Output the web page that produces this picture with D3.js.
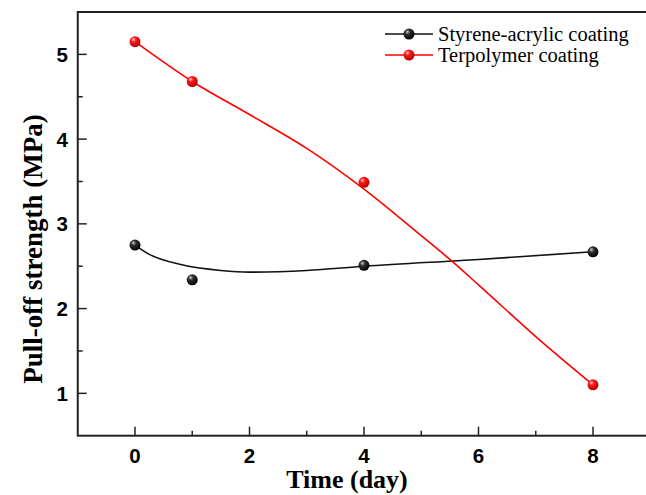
<!DOCTYPE html>
<html>
<head>
<meta charset="utf-8">
<script src="https://cdn.jsdelivr.net/npm/d3@7"></script>
<style>
  body { margin: 0; background: #fff; }
  svg { display: block; }
</style>
</head>
<body>
<svg id="chart" width="646" height="495"></svg>
<script>
// measured points
const days = [0, 1, 4, 8];
const styrene = [2.75, 2.34, 2.51, 2.67];
const terpolymer = [5.15, 4.68, 3.49, 1.10];

// fitted curves
const styreneFitX = [0, 0.25, 0.8, 1.5, 2, 3, 4, 6, 8];
const styreneFitY = [2.75, 2.64, 2.52, 2.45, 2.43, 2.45, 2.50, 2.58, 2.67];
const terpFitX = [0, 1, 2, 3, 4, 5, 5.5, 6, 7, 8];
const terpFitY = [5.15, 4.68, 4.29, 3.89, 3.41, 2.86, 2.58, 2.28, 1.67, 1.10];

const xTicks = [0, 2, 4, 6, 8];
const xMinor = [1, 3, 5, 7];
const yTicks = [1, 2, 3, 4, 5];
const yMinor = [1.5, 2.5, 3.5, 4.5];

const svg = d3.select("#chart");

const x = d3.scaleLinear().domain([-1, 9]).range([77.75, 650.25]);
const y = d3.scaleLinear().domain([0.5, 5.5]).range([435.7, 12]);

// gradients for the shiny markers
const defs = svg.append("defs");
function ball(id, light, mid, dark) {
  const g = defs.append("radialGradient").attr("id", id)
    .attr("cx", "40%").attr("cy", "35%").attr("r", "65%").attr("fx", "35%").attr("fy", "30%");
  g.append("stop").attr("offset", "0%").attr("stop-color", light);
  g.append("stop").attr("offset", "35%").attr("stop-color", mid);
  g.append("stop").attr("offset", "100%").attr("stop-color", dark);
}
ball("gBlack", "#d0d0d0", "#303030", "#000");
ball("gRed", "#ffd0d0", "#ff1a1a", "#b00000");

// frame (right side falls outside the window)
svg.append("rect")
  .attr("x", x(-1)).attr("y", y(5.5))
  .attr("width", x(9) - x(-1)).attr("height", y(0.5) - y(5.5))
  .attr("fill", "none").attr("stroke", "#222").attr("stroke-width", 2);

// y ticks (inward)
svg.selectAll(".ymaj").data(yTicks).enter().append("line")
  .attr("x1", x(-1)).attr("x2", x(-1) + 9)
  .attr("y1", d => y(d)).attr("y2", d => y(d))
  .attr("stroke", "#222").attr("stroke-width", 1.5);
svg.selectAll(".ymin").data(yMinor).enter().append("line")
  .attr("x1", x(-1)).attr("x2", x(-1) + 5)
  .attr("y1", d => y(d)).attr("y2", d => y(d))
  .attr("stroke", "#222").attr("stroke-width", 1.5);
svg.selectAll(".ylab").data(yTicks).enter().append("text")
  .attr("x", 68).attr("y", d => y(d) + 7.5)
  .attr("text-anchor", "end")
  .style("font", "bold 20.5px 'Liberation Sans', Arial, sans-serif")
  .text(d => d);

// x ticks (inward)
svg.selectAll(".xmaj").data(xTicks).enter().append("line")
  .attr("x1", d => x(d)).attr("x2", d => x(d))
  .attr("y1", y(0.5)).attr("y2", y(0.5) - 9)
  .attr("stroke", "#222").attr("stroke-width", 1.5);
svg.selectAll(".xmin").data(xMinor).enter().append("line")
  .attr("x1", d => x(d)).attr("x2", d => x(d))
  .attr("y1", y(0.5)).attr("y2", y(0.5) - 5)
  .attr("stroke", "#222").attr("stroke-width", 1.5);
svg.selectAll(".xlab").data(xTicks).enter().append("text")
  .attr("x", d => x(d)).attr("y", 463)
  .attr("text-anchor", "middle")
  .style("font", "bold 20.5px 'Liberation Sans', Arial, sans-serif")
  .text(d => d);

// axis titles
svg.append("text")
  .attr("x", 347).attr("y", 488)
  .attr("text-anchor", "middle")
  .style("font", "bold 26px 'Liberation Serif', 'Times New Roman', serif")
  .text("Time (day)");
svg.append("text")
  .attr("transform", "translate(42,249) rotate(-90)")
  .attr("text-anchor", "middle")
  .style("font", "bold 27px 'Liberation Serif', 'Times New Roman', serif")
  .text("Pull-off strength (MPa)");

// curves
const line = d3.line().x(d => x(d[0])).y(d => y(d[1])).curve(d3.curveMonotoneX);
svg.append("path")
  .datum(d3.zip(styreneFitX, styreneFitY))
  .attr("d", line).attr("fill", "none").attr("stroke", "#111").attr("stroke-width", 1.6);
svg.append("path")
  .datum(d3.zip(terpFitX, terpFitY))
  .attr("d", line).attr("fill", "none").attr("stroke", "#ff0000").attr("stroke-width", 1.6);

// markers
svg.selectAll(".ps").data(d3.zip(days, styrene)).enter().append("circle")
  .attr("cx", d => x(d[0])).attr("cy", d => y(d[1])).attr("r", 5.5)
  .attr("fill", "url(#gBlack)");
svg.selectAll(".pt").data(d3.zip(days, terpolymer)).enter().append("circle")
  .attr("cx", d => x(d[0])).attr("cy", d => y(d[1])).attr("r", 5.5)
  .attr("fill", "url(#gRed)");

// legend
const legend = [
  {name: "Styrene-acrylic coating", stroke: "#111", fill: "url(#gBlack)", yy: 34},
  {name: "Terpolymer coating", stroke: "#ff0000", fill: "url(#gRed)", yy: 55}
];
const lg = svg.selectAll(".lg").data(legend).enter().append("g");
lg.append("line")
  .attr("x1", 385).attr("x2", 433).attr("y1", d => d.yy).attr("y2", d => d.yy)
  .attr("stroke", d => d.stroke).attr("stroke-width", 1.6);
lg.append("circle")
  .attr("cx", 409).attr("cy", d => d.yy).attr("r", 5.5)
  .attr("fill", d => d.fill);
lg.append("text")
  .attr("x", 438).attr("y", d => d.yy + 6.5)
  .style("font", "20.5px 'Liberation Serif', 'Times New Roman', serif")
  .text(d => d.name);
</script>
</body>
</html>
